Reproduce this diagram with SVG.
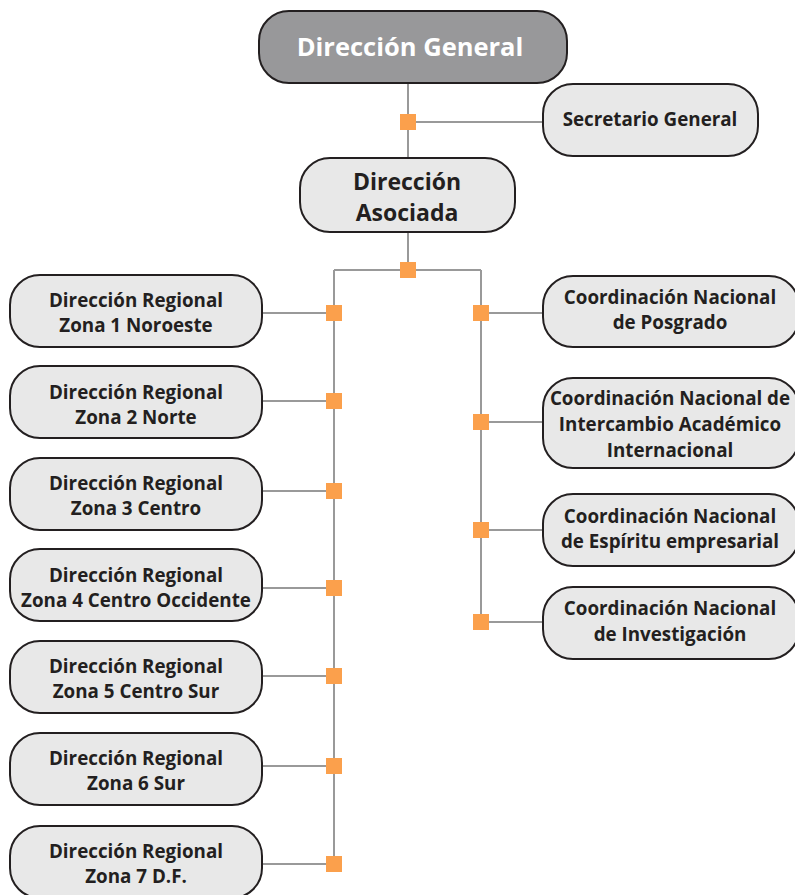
<svg xmlns="http://www.w3.org/2000/svg" width="795" height="895" viewBox="0 0 795 895">
<style>
.box{fill:#e8e8e8;stroke:#231f20;stroke-width:2}
.top{fill:#98989a;stroke:#231f20;stroke-width:2}
.t{font-family:"Open Sans","Liberation Sans",sans-serif;font-weight:700;font-size:18.8px;fill:#231f20;text-anchor:middle}
.tw{font-family:"Open Sans","Liberation Sans",sans-serif;font-weight:700;font-size:25.5px;fill:#ffffff;text-anchor:middle}
.ta{font-family:"Open Sans","Liberation Sans",sans-serif;font-weight:700;font-size:23px;fill:#231f20;text-anchor:middle}
.ln{stroke:#999999;stroke-width:2;fill:none}
.sq{fill:#fba04c}
</style>
<g id="connectors">
<path class="ln" d="M408 83V158M408 122H543M408 232V270M334 270H481M334 270V864M481 270V622"/>
<path class="ln" d="M262 313H334M262 401H334M262 491H334M262 588H334M262 676H334M262 766H334M262 864H334"/>
<path class="ln" d="M481 313H543M481 422H543M481 530H543M481 622H543"/>
<rect class="sq" x="400" y="114" width="16" height="16"/>
<rect class="sq" x="400" y="262" width="16" height="16"/>
<rect class="sq" x="326" y="305" width="16" height="16"/>
<rect class="sq" x="326" y="393" width="16" height="16"/>
<rect class="sq" x="326" y="483" width="16" height="16"/>
<rect class="sq" x="326" y="580" width="16" height="16"/>
<rect class="sq" x="326" y="668" width="16" height="16"/>
<rect class="sq" x="326" y="758" width="16" height="16"/>
<rect class="sq" x="326" y="856" width="16" height="16"/>
<rect class="sq" x="473" y="305" width="16" height="16"/>
<rect class="sq" x="473" y="414" width="16" height="16"/>
<rect class="sq" x="473" y="522" width="16" height="16"/>
<rect class="sq" x="473" y="614" width="16" height="16"/>
</g>
<g id="direccion-general">
<rect class="top" x="259" y="11" width="308" height="72" rx="30"/>
<text class="tw" x="410" y="56">Dirección General</text>
</g>
<g id="secretario-general">
<rect class="box" x="543" y="84" width="215" height="72" rx="30"/>
<text class="t" x="650" y="126">Secretario General</text>
</g>
<g id="direccion-asociada">
<rect class="box" x="300" y="158" width="215" height="74" rx="30"/>
<text class="ta" x="407" y="190">Dirección</text>
<text class="ta" x="407" y="221">Asociada</text>
</g>
<g id="zona1">
<rect class="box" x="10" y="275" width="252" height="72" rx="30"/>
<text class="t" x="136" y="307">Dirección Regional</text>
<text class="t" x="136" y="332">Zona 1 Noroeste</text>
</g>
<g id="zona2">
<rect class="box" x="10" y="366" width="252" height="72" rx="30"/>
<text class="t" x="136" y="399">Dirección Regional</text>
<text class="t" x="136" y="424">Zona 2 Norte</text>
</g>
<g id="zona3">
<rect class="box" x="10" y="458" width="252" height="72" rx="30"/>
<text class="t" x="136" y="490">Dirección Regional</text>
<text class="t" x="136" y="515">Zona 3 Centro</text>
</g>
<g id="zona4">
<rect class="box" x="10" y="549" width="252" height="72" rx="30"/>
<text class="t" x="136" y="582">Dirección Regional</text>
<text class="t" x="136" y="607">Zona 4 Centro Occidente</text>
</g>
<g id="zona5">
<rect class="box" x="10" y="641" width="252" height="72" rx="30"/>
<text class="t" x="136" y="673">Dirección Regional</text>
<text class="t" x="136" y="698">Zona 5 Centro Sur</text>
</g>
<g id="zona6">
<rect class="box" x="10" y="733" width="252" height="72" rx="30"/>
<text class="t" x="136" y="765">Dirección Regional</text>
<text class="t" x="136" y="790">Zona 6 Sur</text>
</g>
<g id="zona7">
<rect class="box" x="10" y="826" width="252" height="72" rx="30"/>
<text class="t" x="136" y="858">Dirección Regional</text>
<text class="t" x="136" y="883">Zona 7 D.F.</text>
</g>
<g id="posgrado">
<rect class="box" x="543" y="276" width="256" height="71" rx="30"/>
<text class="t" x="670" y="304">Coordinación Nacional</text>
<text class="t" x="670" y="329">de Posgrado</text>
</g>
<g id="intercambio">
<rect class="box" x="543" y="378" width="256" height="90" rx="30"/>
<text class="t" x="670" y="405">Coordinación Nacional de</text>
<text class="t" x="670" y="431">Intercambio Académico</text>
<text class="t" x="670" y="457">Internacional</text>
</g>
<g id="espiritu">
<rect class="box" x="543" y="494" width="256" height="72" rx="30"/>
<text class="t" x="670" y="523">Coordinación Nacional</text>
<text class="t" x="670" y="548">de Espíritu empresarial</text>
</g>
<g id="investigacion">
<rect class="box" x="543" y="587" width="256" height="72" rx="30"/>
<text class="t" x="670" y="615">Coordinación Nacional</text>
<text class="t" x="670" y="641">de Investigación</text>
</g>
</svg>
